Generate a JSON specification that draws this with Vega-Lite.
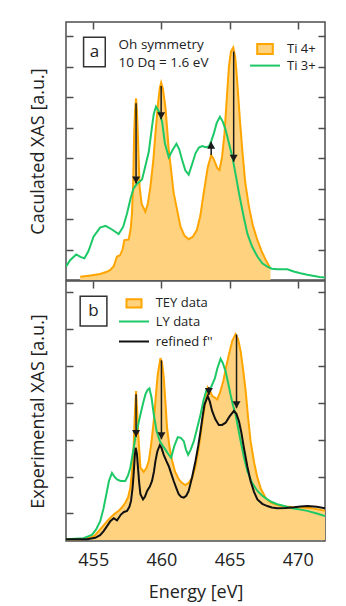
{
  "$schema": "https://vega.github.io/schema/vega-lite/v6.json",
  "padding": {"left": 28, "top": 20, "right": 0, "bottom": 0},
  "spacing": -2,
  "config": {
    "font": "Open Sans",
    "view": {"stroke": "#4d4d4d", "strokeWidth": 1.5},
    "axis": {"domain": false, "grid": false, "tickColor": "#4d4d4d", "tickWidth": 1.5, "tickSize": -7, "labelFont": "Open Sans", "titleFont": "Open Sans", "titleFontWeight": "normal", "titleFontSize": 18, "labelFontSize": 18, "labelColor": "#222222", "titleColor": "#222222"},
    "legend": {"labelFont": "Open Sans", "labelFontSize": 13, "labelColor": "#222222", "padding": 0, "symbolSize": 900, "symbolOpacity": 1, "title": null}
  },
  "resolve": {"scale": {"fill": "independent", "stroke": "independent", "color": "independent"}, "legend": {"fill": "independent", "stroke": "independent", "color": "independent"}},
  "datasets": {
    "ti4": [
      {"series":"Ti 4+","E":454.04,"v":0.11},{"series":"Ti 4+","E":454.8,"v":0.15},{"series":"Ti 4+","E":455.5,"v":0.2},{"series":"Ti 4+","E":456.0,"v":0.27},{"series":"Ti 4+","E":456.25,"v":0.33},{"series":"Ti 4+","E":456.5,"v":0.45},{"series":"Ti 4+","E":456.74,"v":0.77},{"series":"Ti 4+","E":456.96,"v":0.81},{"series":"Ti 4+","E":457.15,"v":1.0},{"series":"Ti 4+","E":457.28,"v":1.31},{"series":"Ti 4+","E":457.6,"v":1.33},{"series":"Ti 4+","E":457.75,"v":1.7},{"series":"Ti 4+","E":457.84,"v":2.19},{"series":"Ti 4+","E":457.93,"v":3.2},{"series":"Ti 4+","E":458.0,"v":4.81},{"series":"Ti 4+","E":458.07,"v":5.6},{"series":"Ti 4+","E":458.14,"v":5.96},{"series":"Ti 4+","E":458.2,"v":5.6},{"series":"Ti 4+","E":458.27,"v":4.81},{"series":"Ti 4+","E":458.4,"v":3.06},{"series":"Ti 4+","E":458.55,"v":2.5},{"series":"Ti 4+","E":458.82,"v":2.24},{"series":"Ti 4+","E":459.0,"v":2.5},{"series":"Ti 4+","E":459.19,"v":3.06},{"series":"Ti 4+","E":459.4,"v":3.9},{"series":"Ti 4+","E":459.56,"v":4.81},{"series":"Ti 4+","E":459.75,"v":5.8},{"series":"Ti 4+","E":459.88,"v":6.3},{"series":"Ti 4+","E":459.98,"v":6.48},{"series":"Ti 4+","E":460.1,"v":6.3},{"series":"Ti 4+","E":460.29,"v":5.69},{"series":"Ti 4+","E":460.54,"v":4.27},{"series":"Ti 4+","E":460.9,"v":2.85},{"series":"Ti 4+","E":461.4,"v":1.75},{"series":"Ti 4+","E":461.7,"v":1.45},{"series":"Ti 4+","E":462.0,"v":1.34},{"series":"Ti 4+","E":462.3,"v":1.42},{"series":"Ti 4+","E":462.6,"v":1.64},{"series":"Ti 4+","E":462.85,"v":2.1},{"series":"Ti 4+","E":463.1,"v":2.85},{"series":"Ti 4+","E":463.4,"v":3.7},{"series":"Ti 4+","E":463.65,"v":4.1},{"series":"Ti 4+","E":463.8,"v":4.0},{"series":"Ti 4+","E":463.96,"v":3.83},{"series":"Ti 4+","E":464.1,"v":3.67},{"series":"Ti 4+","E":464.26,"v":3.61},{"series":"Ti 4+","E":464.45,"v":4.05},{"series":"Ti 4+","E":464.63,"v":4.82},{"series":"Ti 4+","E":464.8,"v":6.0},{"series":"Ti 4+","E":464.95,"v":7.0},{"series":"Ti 4+","E":465.1,"v":7.5},{"series":"Ti 4+","E":465.27,"v":7.63},{"series":"Ti 4+","E":465.42,"v":7.3},{"series":"Ti 4+","E":465.57,"v":6.46},{"series":"Ti 4+","E":465.75,"v":5.3},{"series":"Ti 4+","E":465.93,"v":4.27},{"series":"Ti 4+","E":466.15,"v":3.2},{"series":"Ti 4+","E":466.42,"v":2.41},{"series":"Ti 4+","E":466.7,"v":1.8},{"series":"Ti 4+","E":467.04,"v":1.31},{"series":"Ti 4+","E":467.35,"v":0.95},{"series":"Ti 4+","E":467.65,"v":0.66},{"series":"Ti 4+","E":467.85,"v":0.5},{"series":"Ti 4+","E":468.0,"v":0.38}
    ],
    "ti3": [
      {"series":"Ti 3+","E":453.0,"v":0.44},{"series":"Ti 3+","E":453.3,"v":0.65},{"series":"Ti 3+","E":453.75,"v":0.84},{"series":"Ti 3+","E":454.05,"v":0.76},{"series":"Ti 3+","E":454.35,"v":0.71},{"series":"Ti 3+","E":454.65,"v":0.95},{"series":"Ti 3+","E":455.02,"v":1.42},{"series":"Ti 3+","E":455.5,"v":1.72},{"series":"Ti 3+","E":455.9,"v":1.78},{"series":"Ti 3+","E":456.4,"v":1.65},{"series":"Ti 3+","E":456.86,"v":1.51},{"series":"Ti 3+","E":457.2,"v":1.75},{"series":"Ti 3+","E":457.48,"v":2.19},{"series":"Ti 3+","E":457.75,"v":2.7},{"series":"Ti 3+","E":457.96,"v":3.01},{"series":"Ti 3+","E":458.2,"v":3.15},{"series":"Ti 3+","E":458.58,"v":3.3},{"series":"Ti 3+","E":458.8,"v":3.7},{"series":"Ti 3+","E":459.07,"v":4.2},{"series":"Ti 3+","E":459.3,"v":5.0},{"series":"Ti 3+","E":459.44,"v":5.45},{"series":"Ti 3+","E":459.6,"v":5.69},{"series":"Ti 3+","E":459.8,"v":5.55},{"series":"Ti 3+","E":460.05,"v":5.2},{"series":"Ti 3+","E":460.25,"v":4.5},{"series":"Ti 3+","E":460.54,"v":4.03},{"series":"Ti 3+","E":460.8,"v":4.25},{"series":"Ti 3+","E":461.1,"v":4.47},{"series":"Ti 3+","E":461.3,"v":4.3},{"series":"Ti 3+","E":461.52,"v":3.94},{"series":"Ti 3+","E":461.75,"v":3.6},{"series":"Ti 3+","E":462.0,"v":3.46},{"series":"Ti 3+","E":462.25,"v":3.8},{"series":"Ti 3+","E":462.5,"v":4.16},{"series":"Ti 3+","E":462.75,"v":4.35},{"series":"Ti 3+","E":462.99,"v":4.4},{"series":"Ti 3+","E":463.25,"v":4.36},{"series":"Ti 3+","E":463.48,"v":4.38},{"series":"Ti 3+","E":463.65,"v":4.55},{"series":"Ti 3+","E":463.85,"v":4.82},{"series":"Ti 3+","E":464.05,"v":5.15},{"series":"Ti 3+","E":464.29,"v":5.36},{"series":"Ti 3+","E":464.5,"v":5.2},{"series":"Ti 3+","E":464.71,"v":4.93},{"series":"Ti 3+","E":464.95,"v":4.5},{"series":"Ti 3+","E":465.2,"v":4.05},{"series":"Ti 3+","E":465.45,"v":3.45},{"series":"Ti 3+","E":465.69,"v":2.85},{"series":"Ti 3+","E":466.0,"v":2.15},{"series":"Ti 3+","E":466.3,"v":1.53},{"series":"Ti 3+","E":466.65,"v":1.1},{"series":"Ti 3+","E":467.04,"v":0.77},{"series":"Ti 3+","E":467.4,"v":0.55},{"series":"Ti 3+","E":467.77,"v":0.44},{"series":"Ti 3+","E":468.1,"v":0.37},{"series":"Ti 3+","E":468.5,"v":0.35},{"series":"Ti 3+","E":468.9,"v":0.35},{"series":"Ti 3+","E":469.24,"v":0.35},{"series":"Ti 3+","E":469.7,"v":0.28},{"series":"Ti 3+","E":470.2,"v":0.22},{"series":"Ti 3+","E":470.7,"v":0.17},{"series":"Ti 3+","E":471.2,"v":0.13},{"series":"Ti 3+","E":471.6,"v":0.1},{"series":"Ti 3+","E":472.0,"v":0.08}
    ],
    "tey": [
      {"series":"TEY data","E":453.0,"v":0.02},{"series":"TEY data","E":454.04,"v":0.02},{"series":"TEY data","E":454.78,"v":0.06},{"series":"TEY data","E":455.1,"v":0.12},{"series":"TEY data","E":455.51,"v":0.29},{"series":"TEY data","E":456.13,"v":0.56},{"series":"TEY data","E":456.5,"v":0.69},{"series":"TEY data","E":456.86,"v":0.79},{"series":"TEY data","E":457.1,"v":0.88},{"series":"TEY data","E":457.35,"v":1.01},{"series":"TEY data","E":457.55,"v":1.15},{"series":"TEY data","E":457.72,"v":1.42},{"series":"TEY data","E":457.85,"v":1.9},{"series":"TEY data","E":457.96,"v":2.5},{"series":"TEY data","E":458.05,"v":3.4},{"series":"TEY data","E":458.14,"v":4.04},{"series":"TEY data","E":458.22,"v":3.5},{"series":"TEY data","E":458.3,"v":2.86},{"series":"TEY data","E":458.46,"v":1.96},{"series":"TEY data","E":458.7,"v":1.85},{"series":"TEY data","E":458.9,"v":1.95},{"series":"TEY data","E":459.07,"v":2.14},{"series":"TEY data","E":459.25,"v":2.6},{"series":"TEY data","E":459.44,"v":3.23},{"series":"TEY data","E":459.6,"v":3.95},{"series":"TEY data","E":459.73,"v":4.49},{"series":"TEY data","E":459.93,"v":4.93},{"series":"TEY data","E":460.05,"v":4.8},{"series":"TEY data","E":460.17,"v":4.4},{"series":"TEY data","E":460.3,"v":3.7},{"series":"TEY data","E":460.41,"v":3.05},{"series":"TEY data","E":460.6,"v":2.5},{"series":"TEY data","E":460.79,"v":2.14},{"series":"TEY data","E":461.0,"v":1.85},{"series":"TEY data","E":461.27,"v":1.65},{"series":"TEY data","E":461.5,"v":1.55},{"series":"TEY data","E":461.76,"v":1.49},{"series":"TEY data","E":462.0,"v":1.55},{"series":"TEY data","E":462.26,"v":1.69},{"series":"TEY data","E":462.5,"v":2.0},{"series":"TEY data","E":462.74,"v":2.5},{"series":"TEY data","E":462.95,"v":3.05},{"series":"TEY data","E":463.16,"v":3.59},{"series":"TEY data","E":463.4,"v":4.13},{"series":"TEY data","E":463.55,"v":4.05},{"series":"TEY data","E":463.72,"v":3.91},{"series":"TEY data","E":464.1,"v":3.81},{"series":"TEY data","E":464.3,"v":4.0},{"series":"TEY data","E":464.54,"v":4.31},{"series":"TEY data","E":464.75,"v":4.7},{"series":"TEY data","E":464.95,"v":5.03},{"series":"TEY data","E":465.2,"v":5.4},{"series":"TEY data","E":465.44,"v":5.58},{"series":"TEY data","E":465.62,"v":5.45},{"series":"TEY data","E":465.81,"v":5.12},{"series":"TEY data","E":466.0,"v":4.6},{"series":"TEY data","E":466.18,"v":4.04},{"series":"TEY data","E":466.35,"v":3.35},{"series":"TEY data","E":466.54,"v":2.68},{"series":"TEY data","E":466.8,"v":2.1},{"series":"TEY data","E":467.04,"v":1.69},{"series":"TEY data","E":467.3,"v":1.38},{"series":"TEY data","E":467.65,"v":1.14},{"series":"TEY data","E":468.0,"v":1.02},{"series":"TEY data","E":468.5,"v":0.95},{"series":"TEY data","E":469.1,"v":0.91},{"series":"TEY data","E":469.73,"v":0.89},{"series":"TEY data","E":470.3,"v":0.88},{"series":"TEY data","E":470.96,"v":0.87},{"series":"TEY data","E":471.5,"v":0.83},{"series":"TEY data","E":472.0,"v":0.79}
    ],
    "ly": [
      {"series":"LY data","E":453.0,"v":0.02},{"series":"LY data","E":454.29,"v":0.05},{"series":"LY data","E":454.9,"v":0.14},{"series":"LY data","E":455.2,"v":0.28},{"series":"LY data","E":455.51,"v":0.51},{"series":"LY data","E":455.75,"v":0.85},{"series":"LY data","E":455.96,"v":1.24},{"series":"LY data","E":456.15,"v":1.6},{"series":"LY data","E":456.37,"v":1.82},{"series":"LY data","E":456.55,"v":1.72},{"series":"LY data","E":456.74,"v":1.64},{"series":"LY data","E":457.0,"v":1.6},{"series":"LY data","E":457.35,"v":1.6},{"series":"LY data","E":457.55,"v":1.75},{"series":"LY data","E":457.72,"v":1.96},{"series":"LY data","E":457.9,"v":2.35},{"series":"LY data","E":458.09,"v":2.77},{"series":"LY data","E":458.28,"v":3.1},{"series":"LY data","E":458.46,"v":3.4},{"series":"LY data","E":458.65,"v":3.7},{"series":"LY data","E":458.82,"v":3.94},{"series":"LY data","E":458.97,"v":4.06},{"series":"LY data","E":459.12,"v":4.11},{"series":"LY data","E":459.28,"v":3.85},{"series":"LY data","E":459.44,"v":3.4},{"series":"LY data","E":459.65,"v":2.95},{"series":"LY data","E":459.88,"v":2.68},{"series":"LY data","E":460.1,"v":2.55},{"series":"LY data","E":460.29,"v":2.45},{"series":"LY data","E":460.5,"v":2.33},{"series":"LY data","E":460.71,"v":2.23},{"series":"LY data","E":460.95,"v":2.55},{"series":"LY data","E":461.2,"v":2.79},{"series":"LY data","E":461.42,"v":2.77},{"series":"LY data","E":461.64,"v":2.68},{"series":"LY data","E":461.8,"v":2.45},{"series":"LY data","E":461.96,"v":2.31},{"series":"LY data","E":462.15,"v":2.45},{"series":"LY data","E":462.38,"v":2.68},{"series":"LY data","E":462.6,"v":3.0},{"series":"LY data","E":462.87,"v":3.4},{"series":"LY data","E":463.1,"v":3.8},{"series":"LY data","E":463.31,"v":4.07},{"series":"LY data","E":463.6,"v":4.11},{"series":"LY data","E":463.92,"v":4.38},{"series":"LY data","E":464.1,"v":4.65},{"series":"LY data","E":464.34,"v":4.91},{"series":"LY data","E":464.5,"v":4.8},{"series":"LY data","E":464.71,"v":4.57},{"series":"LY data","E":464.9,"v":4.25},{"series":"LY data","E":465.07,"v":3.94},{"series":"LY data","E":465.25,"v":3.65},{"series":"LY data","E":465.44,"v":3.4},{"series":"LY data","E":465.62,"v":3.05},{"series":"LY data","E":465.81,"v":2.68},{"series":"LY data","E":466.05,"v":2.25},{"series":"LY data","E":466.3,"v":1.87},{"series":"LY data","E":466.65,"v":1.55},{"series":"LY data","E":467.04,"v":1.33},{"series":"LY data","E":467.4,"v":1.2},{"series":"LY data","E":467.77,"v":1.1},{"series":"LY data","E":468.1,"v":1.03},{"series":"LY data","E":468.5,"v":0.97},{"series":"LY data","E":469.0,"v":0.92},{"series":"LY data","E":469.49,"v":0.87},{"series":"LY data","E":470.1,"v":0.83},{"series":"LY data","E":470.71,"v":0.79},{"series":"LY data","E":471.4,"v":0.72},{"series":"LY data","E":472.0,"v":0.65}
    ],
    "ref": [
      {"series":"refined f''","E":453.0,"v":0.02},{"series":"refined f''","E":454.54,"v":0.02},{"series":"refined f''","E":455.15,"v":0.06},{"series":"refined f''","E":455.5,"v":0.13},{"series":"refined f''","E":455.76,"v":0.24},{"series":"refined f''","E":456.0,"v":0.37},{"series":"refined f''","E":456.25,"v":0.51},{"series":"refined f''","E":456.5,"v":0.59},{"series":"refined f''","E":456.74,"v":0.53},{"series":"refined f''","E":457.03,"v":0.69},{"series":"refined f''","E":457.25,"v":0.76},{"series":"refined f''","E":457.48,"v":0.79},{"series":"refined f''","E":457.65,"v":0.9},{"series":"refined f''","E":457.77,"v":1.06},{"series":"refined f''","E":457.88,"v":1.4},{"series":"refined f''","E":457.96,"v":1.78},{"series":"refined f''","E":458.05,"v":2.3},{"series":"refined f''","E":458.11,"v":2.5},{"series":"refined f''","E":458.2,"v":2.35},{"series":"refined f''","E":458.28,"v":1.96},{"series":"refined f''","E":458.37,"v":1.55},{"series":"refined f''","E":458.46,"v":1.24},{"series":"refined f''","E":458.65,"v":1.1},{"series":"refined f''","E":458.8,"v":1.18},{"series":"refined f''","E":458.95,"v":1.33},{"series":"refined f''","E":459.15,"v":1.45},{"series":"refined f''","E":459.31,"v":1.6},{"series":"refined f''","E":459.45,"v":1.85},{"series":"refined f''","E":459.56,"v":2.14},{"series":"refined f''","E":459.7,"v":2.4},{"series":"refined f''","E":459.88,"v":2.57},{"series":"refined f''","E":460.0,"v":2.5},{"series":"refined f''","E":460.17,"v":2.31},{"series":"refined f''","E":460.35,"v":2.15},{"series":"refined f''","E":460.54,"v":2.0},{"series":"refined f''","E":460.72,"v":1.8},{"series":"refined f''","E":460.9,"v":1.6},{"series":"refined f''","E":461.1,"v":1.4},{"series":"refined f''","E":461.27,"v":1.24},{"series":"refined f''","E":461.45,"v":1.17},{"series":"refined f''","E":461.64,"v":1.15},{"series":"refined f''","E":461.82,"v":1.2},{"series":"refined f''","E":462.0,"v":1.33},{"series":"refined f''","E":462.25,"v":1.7},{"series":"refined f''","E":462.5,"v":2.14},{"series":"refined f''","E":462.7,"v":2.55},{"series":"refined f''","E":462.87,"v":2.95},{"series":"refined f''","E":463.0,"v":3.3},{"series":"refined f''","E":463.16,"v":3.67},{"series":"refined f''","E":463.4,"v":3.9},{"series":"refined f''","E":463.55,"v":3.75},{"series":"refined f''","E":463.72,"v":3.5},{"series":"refined f''","E":463.95,"v":3.28},{"series":"refined f''","E":464.21,"v":3.12},{"series":"refined f''","E":464.45,"v":3.12},{"series":"refined f''","E":464.71,"v":3.18},{"series":"refined f''","E":465.0,"v":3.35},{"series":"refined f''","E":465.32,"v":3.5},{"series":"refined f''","E":465.5,"v":3.42},{"series":"refined f''","E":465.69,"v":3.22},{"series":"refined f''","E":465.87,"v":2.9},{"series":"refined f''","E":466.05,"v":2.5},{"series":"refined f''","E":466.3,"v":2.0},{"series":"refined f''","E":466.54,"v":1.6},{"series":"refined f''","E":466.8,"v":1.3},{"series":"refined f''","E":467.04,"v":1.1},{"series":"refined f''","E":467.4,"v":0.98},{"series":"refined f''","E":467.77,"v":0.92},{"series":"refined f''","E":468.1,"v":0.88},{"series":"refined f''","E":468.5,"v":0.86},{"series":"refined f''","E":469.1,"v":0.87},{"series":"refined f''","E":469.73,"v":0.89},{"series":"refined f''","E":470.2,"v":0.91},{"series":"refined f''","E":470.71,"v":0.92},{"series":"refined f''","E":471.4,"v":0.9},{"series":"refined f''","E":472.0,"v":0.86}
    ],
    "arrowsA": [
      {"E":458.14,"from":5.8,"to":3.17,"dir":"down"},
      {"E":459.98,"from":6.37,"to":5.28,"dir":"down"},
      {"E":463.65,"from":4.1,"to":4.54,"dir":"up"},
      {"E":465.3,"from":7.5,"to":3.88,"dir":"down"}
    ],
    "arrowsB": [
      {"E":458.14,"from":3.95,"to":2.79,"dir":"down"},
      {"E":460.0,"from":4.87,"to":2.73,"dir":"down"},
      {"E":463.48,"from":4.15,"to":3.93,"dir":"down"},
      {"E":465.51,"from":5.57,"to":3.57,"dir":"down"}
    ],
    "notesA": [
      {"E":456.86,"v":7.72,"text":"Oh symmetry"},
      {"E":456.86,"v":7.14,"text":"10 Dq = 1.6 eV"}
    ],
    "boxA": [{"label":"a","E":455.08,"v":7.48,"E1":454.29,"E2":455.88,"v1":7.0,"v2":7.97}],
    "boxB": [{"label":"b","E":455.02,"v":6.2,"E1":454.04,"E2":456.0,"v1":5.8,"v2":6.61}]
  },
  "vconcat": [
    {
      "width": 259,
      "height": 258,
      "resolve": {"axis": {"x": "independent", "y": "independent"}},
      "layer": [
        {
          "data": {"name": "ti4"},
          "mark": {"type": "area", "fillOpacity": 1, "clip": true},
          "encoding": {
            "x": {"field": "E", "type": "quantitative", "scale": {"domain": [453, 472], "nice": false, "zero": false}, "axis": null},
            "y": {"field": "v", "type": "quantitative", "scale": {"domain": [0, 8.47], "nice": false, "zero": false}, "axis": {"orient": "left", "title": "Caculated XAS [a.u.]", "values": [1, 2, 3, 4, 5, 6, 7, 8], "labels": false, "titlePadding": 18}},
            "fill": {"field": "series", "type": "nominal", "scale": {"domain": ["Ti 4+"], "range": ["#FFD27F"]},
              "legend": {"orient": "none", "legendX": 183, "legendY": 11, "labelOffset": 6, "symbolType": "M-0.52,-0.33L0.52,-0.33L0.52,0.33L-0.52,0.33Z", "symbolStrokeColor": "#FFA500", "symbolStrokeWidth": 2}}
          }
        },
        {
          "data": {"name": "ti4"},
          "mark": {"type": "line", "strokeWidth": 2, "color": "#FFA500", "clip": true},
          "encoding": {
            "x": {"field": "E", "type": "quantitative", "axis": null},
            "y": {"field": "v", "type": "quantitative", "axis": null}
          }
        },
        {
          "data": {"name": "ti3"},
          "mark": {"type": "line", "strokeWidth": 2, "clip": true},
          "encoding": {
            "x": {"field": "E", "type": "quantitative", "axis": {"orient": "top", "values": [455, 460, 465, 470], "labels": false, "title": null}},
            "y": {"field": "v", "type": "quantitative", "axis": {"orient": "right", "values": [1, 2, 3, 4, 5, 6, 7, 8], "labels": false, "title": null}},
            "stroke": {"field": "series", "type": "nominal", "scale": {"domain": ["Ti 3+"], "range": ["#1DC866"]},
              "legend": {"orient": "none", "legendX": 183, "legendY": 27.6, "labelOffset": 6, "symbolType": "stroke", "symbolStrokeWidth": 2}}
          }
        },
        {
          "data": {"name": "arrowsA"},
          "mark": {"type": "rule", "color": "#1a1a1a", "strokeWidth": 1.5},
          "encoding": {
            "x": {"field": "E", "type": "quantitative", "axis": null},
            "y": {"field": "from", "type": "quantitative", "axis": null},
            "y2": {"field": "to"}
          }
        },
        {
          "data": {"name": "arrowsA"},
          "transform": [{"filter": "datum.dir === 'down'"}],
          "mark": {"type": "point", "shape": "triangle-down", "filled": true, "size": 64, "color": "#1a1a1a", "opacity": 1, "yOffset": -3.5},
          "encoding": {
            "x": {"field": "E", "type": "quantitative", "axis": null},
            "y": {"field": "to", "type": "quantitative", "axis": null}
          }
        },
        {
          "data": {"name": "arrowsA"},
          "transform": [{"filter": "datum.dir === 'up'"}],
          "mark": {"type": "point", "shape": "triangle-up", "filled": true, "size": 64, "color": "#1a1a1a", "opacity": 1, "yOffset": 3.5},
          "encoding": {
            "x": {"field": "E", "type": "quantitative", "axis": null},
            "y": {"field": "to", "type": "quantitative", "axis": null}
          }
        },
        {
          "data": {"name": "notesA"},
          "mark": {"type": "text", "align": "left", "baseline": "middle", "fontSize": 13.5, "font": "Open Sans", "color": "#222222"},
          "encoding": {
            "x": {"field": "E", "type": "quantitative", "axis": null},
            "y": {"field": "v", "type": "quantitative", "axis": null},
            "text": {"field": "text"}
          }
        },
        {
          "data": {"name": "boxA"},
          "mark": {"type": "rect", "fill": "white", "stroke": "#333333", "strokeWidth": 1.5},
          "encoding": {
            "x": {"field": "E1", "type": "quantitative", "axis": null},
            "x2": {"field": "E2"},
            "y": {"field": "v1", "type": "quantitative", "axis": null},
            "y2": {"field": "v2"}
          }
        },
        {
          "data": {"name": "boxA"},
          "mark": {"type": "text", "align": "center", "baseline": "middle", "fontSize": 17, "font": "Open Sans", "color": "#222222"},
          "encoding": {
            "x": {"field": "E", "type": "quantitative", "axis": null},
            "y": {"field": "v", "type": "quantitative", "axis": null},
            "text": {"field": "label"}
          }
        }
      ]
    },
    {
      "width": 259,
      "height": 260,
      "resolve": {"axis": {"x": "independent", "y": "independent"}},
      "layer": [
        {
          "data": {"name": "tey"},
          "mark": {"type": "area", "fillOpacity": 1, "clip": true},
          "encoding": {
            "x": {"field": "E", "type": "quantitative", "scale": {"domain": [453, 472], "nice": false, "zero": false}, "axis": {"orient": "bottom", "values": [455, 460, 465, 470], "ticks": false, "title": "Energy [eV]", "labelPadding": 10, "titlePadding": 14}},
            "y": {"field": "v", "type": "quantitative", "scale": {"domain": [-0.027, 7.02], "nice": false, "zero": false}, "axis": {"orient": "left", "title": "Experimental XAS [a.u.]", "values": [0.72, 1.72, 2.72, 3.72, 4.72, 5.72, 6.72], "labels": false, "titlePadding": 18}},
            "fill": {"field": "series", "type": "nominal", "scale": {"domain": ["TEY data"], "range": ["#FFD27F"]},
              "legend": {"orient": "none", "legendX": 52, "legendY": 6.4, "labelOffset": 5.7, "symbolType": "M-0.5,-0.28L0.5,-0.28L0.5,0.28L-0.5,0.28Z", "symbolStrokeColor": "#FFA500", "symbolStrokeWidth": 2}}
          }
        },
        {
          "data": {"name": "tey"},
          "mark": {"type": "line", "strokeWidth": 2, "color": "#FFA500", "clip": true},
          "encoding": {
            "x": {"field": "E", "type": "quantitative", "axis": null},
            "y": {"field": "v", "type": "quantitative", "axis": null}
          }
        },
        {
          "data": {"name": "ly"},
          "mark": {"type": "line", "strokeWidth": 2, "clip": true},
          "encoding": {
            "x": {"field": "E", "type": "quantitative", "axis": {"orient": "top", "values": [455, 460, 465, 470], "labels": false, "title": null}},
            "y": {"field": "v", "type": "quantitative", "axis": {"orient": "right", "values": [0.72, 1.72, 2.72, 3.72, 4.72, 5.72, 6.72], "labels": false, "title": null}},
            "stroke": {"field": "series", "type": "nominal", "scale": {"domain": ["LY data"], "range": ["#1DC866"]},
              "legend": {"orient": "none", "legendX": 52, "legendY": 24.5, "labelOffset": 5.7, "symbolType": "stroke", "symbolStrokeWidth": 2}}
          }
        },
        {
          "data": {"name": "ref"},
          "mark": {"type": "line", "strokeWidth": 2, "clip": true},
          "encoding": {
            "x": {"field": "E", "type": "quantitative", "axis": null},
            "y": {"field": "v", "type": "quantitative", "axis": null},
            "color": {"field": "series", "type": "nominal", "scale": {"domain": ["refined f''"], "range": ["#111111"]},
              "legend": {"orient": "none", "legendX": 52, "legendY": 44.5, "labelOffset": 5.7, "symbolType": "stroke", "symbolStrokeWidth": 2}}
          }
        },
        {
          "data": {"name": "arrowsB"},
          "mark": {"type": "rule", "color": "#1a1a1a", "strokeWidth": 1.5},
          "encoding": {
            "x": {"field": "E", "type": "quantitative", "axis": null},
            "y": {"field": "from", "type": "quantitative", "axis": null},
            "y2": {"field": "to"}
          }
        },
        {
          "data": {"name": "arrowsB"},
          "mark": {"type": "point", "shape": "triangle-down", "filled": true, "size": 64, "color": "#1a1a1a", "opacity": 1, "yOffset": -3.5},
          "encoding": {
            "x": {"field": "E", "type": "quantitative", "axis": null},
            "y": {"field": "to", "type": "quantitative", "axis": null}
          }
        },
        {
          "data": {"name": "boxB"},
          "mark": {"type": "rect", "fill": "white", "stroke": "#333333", "strokeWidth": 1.5},
          "encoding": {
            "x": {"field": "E1", "type": "quantitative", "axis": null},
            "x2": {"field": "E2"},
            "y": {"field": "v1", "type": "quantitative", "axis": null},
            "y2": {"field": "v2"}
          }
        },
        {
          "data": {"name": "boxB"},
          "mark": {"type": "text", "align": "center", "baseline": "middle", "fontSize": 17, "font": "Open Sans", "color": "#222222"},
          "encoding": {
            "x": {"field": "E", "type": "quantitative", "axis": null},
            "y": {"field": "v", "type": "quantitative", "axis": null},
            "text": {"field": "label"}
          }
        }
      ]
    }
  ]
}
